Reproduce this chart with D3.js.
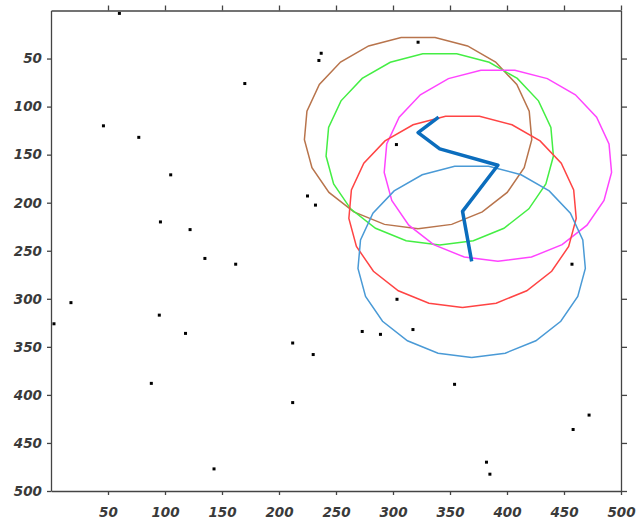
<!DOCTYPE html>
<meta charset="utf-8">
<style>
body { margin: 0; background: #fff; }
.axis text { font: oblique bold 13.5px "DejaVu Sans", Verdana, sans-serif; fill: #3a3a3a; }
.axis path, .axis line { stroke: #444; stroke-width: 1.3px; }
.ring { fill: none; stroke-width: 1.5px; }
.track { fill: none; stroke: #0b6dbd; stroke-width: 3.5px; stroke-linejoin: round; }
</style>
<body>
<script src="https://d3js.org/d3.v7.min.js"></script>
<script>

// scattered points
var pointX = [60, 170, 46, 77, 105, 96, 122, 135, 225, 232, 235, 237, 322, 303,
              162, 17.5, 2.6, 95, 118, 212, 230, 88, 212, 143,
              457, 303.5, 273, 289, 317.5, 354, 472, 458, 382, 385];
var pointY = [3, 76, 120, 132, 171, 220, 228, 258, 193, 202.5, 52, 44.5, 33, 139.5,
              264, 304, 326, 317, 336, 346, 358, 388, 408, 477,
              264, 300.5, 334, 337, 332, 389, 421, 436, 470, 482.5];

// the path and the circles drawn round its vertices
var pathX = [340, 322, 341, 392, 361, 369];
var pathY = [111, 127, 144, 161, 209, 261];
var ringColors = ["#b8744c", "#44ee44", "#ff44ff", "#ff4444", "#4a9ad6"];
var ringRadius = 100;

var ticks = [50, 100, 150, 200, 250, 300, 350, 400, 450, 500];

var x = d3.scaleLinear().domain([0, 500]).range([51, 621]);
var y = d3.scaleLinear().domain([0, 500]).range([10.5, 491]);

var svg = d3.select("body").append("svg")
    .attr("width", 641)
    .attr("height", 520);

// circles as polygons (vertex at the bottom)
var sides = 21;
ringColors.forEach(function(c, i) {
  var cx = pathX[i + 1], cy = pathY[i + 1];
  var pts = d3.range(sides + 1).map(function(k) {
    var a = Math.PI / 2 + k * 2 * Math.PI / sides;
    return [x(cx + ringRadius * Math.cos(a)), y(cy + ringRadius * Math.sin(a))];
  });
  svg.append("path")
      .attr("class", "ring")
      .style("stroke", c)
      .attr("d", d3.line()(pts));
});

// the path
var track = d3.line()
    .x(function(d) { return x(d[0]); })
    .y(function(d) { return y(d[1]); });
svg.append("path")
    .datum(pathX.map(function(v, i) { return [v, pathY[i]]; }))
    .attr("class", "track")
    .attr("d", track);

// points
svg.selectAll(".pt")
    .data(pointX.map(function(v, i) { return [v, pointY[i]]; }))
  .enter().append("rect")
    .attr("class", "pt")
    .attr("x", function(d) { return x(d[0]) - 1.5; })
    .attr("y", function(d) { return y(d[1]) - 1.5; })
    .attr("width", 3)
    .attr("height", 3)
    .attr("fill", "#000");

// axes
svg.append("g")
    .attr("class", "axis")
    .attr("transform", "translate(0,491)")
    .call(d3.axisBottom(x).tickValues(ticks).tickSize(4).tickPadding(12).tickSizeOuter(0));

svg.append("g")
    .attr("class", "axis")
    .attr("transform", "translate(51,0)")
    .call(d3.axisLeft(y).tickValues(ticks).tickSize(4).tickPadding(5).tickSizeOuter(0));

svg.append("g")
    .attr("class", "axis")
    .attr("transform", "translate(0,10.5)")
    .call(d3.axisTop(x).tickValues(ticks).tickSize(5).tickSizeOuter(0).tickFormat(""));

svg.append("g")
    .attr("class", "axis")
    .attr("transform", "translate(621,0)")
    .call(d3.axisRight(y).tickValues(ticks).tickSize(6).tickSizeOuter(0).tickFormat(""));

</script>
</body>
